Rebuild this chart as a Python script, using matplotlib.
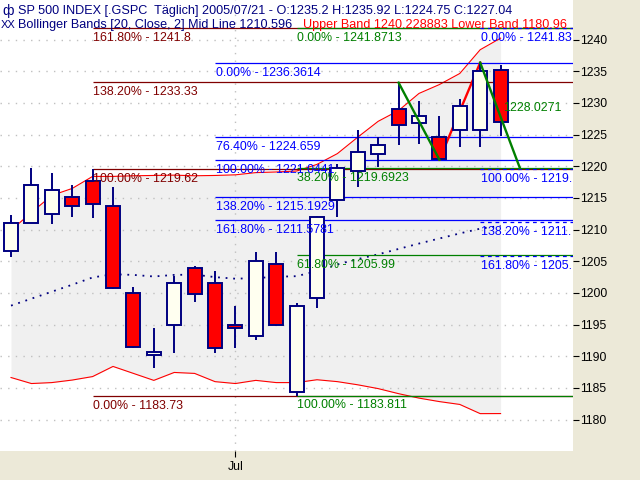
import matplotlib.pyplot as plt

plt.rcParams['font.family'] = ['Liberation Sans', 'DejaVu Sans']

# S&P 500 daily bars, 2005/06/16 .. 2005/07/21
opens  = [1206.7, 1211.0, 1212.5, 1215.2, 1217.7, 1213.7, 1200.0, 1190.2, 1195.0, 1204.0,
          1201.5, 1194.95, 1193.2, 1204.6, 1184.4, 1199.2, 1214.7, 1219.3, 1221.95, 1229.05,
          1226.9, 1224.7, 1225.65, 1225.75, 1235.2]
highs  = [1212.3, 1219.7, 1219.0, 1217.1, 1219.62, 1216.7, 1200.9, 1194.4, 1202.6, 1204.2,
          1203.4, 1198.0, 1206.5, 1206.4, 1198.4, 1212.1, 1220.4, 1225.65, 1224.55, 1233.2,
          1230.35, 1228.0, 1230.6, 1236.3614, 1235.92]
lows   = [1205.6, 1211.0, 1210.9, 1212.0, 1211.8, 1200.7, 1191.3, 1188.1, 1190.6, 1198.65,
          1190.5, 1191.3, 1192.5, 1194.75, 1183.73, 1197.6, 1211.95, 1216.7, 1219.95, 1223.4,
          1223.5, 1221.0444, 1223.0, 1223.0, 1224.75]
closes = [1211.1, 1217.1, 1216.3, 1213.8, 1214.1, 1200.75, 1191.5, 1190.75, 1201.65, 1199.85,
          1191.3, 1194.45, 1205.05, 1194.95, 1198.0, 1212.05, 1219.7, 1222.3, 1223.4, 1226.55,
          1227.95, 1221.17, 1229.45, 1235.1, 1227.04]

# Bollinger bands [20, Close, 2]
upper_band = [1209.9, 1212.7, 1215.4, 1216.5, 1218.4, 1218.4, 1218.5, 1218.55, 1218.6, 1218.5,
              1218.55, 1218.65, 1219.0, 1219.1, 1219.25, 1220.3, 1222.0, 1224.6, 1227.1, 1228.8,
              1231.5, 1232.9, 1234.65, 1238.4, 1240.228883]
mid_line   = [1198.0, 1199.1, 1200.2, 1201.3, 1202.45, 1202.95, 1202.85, 1202.6, 1202.85, 1202.9,
              1202.5, 1202.25, 1202.35, 1202.55, 1202.65, 1203.45, 1204.5, 1205.35, 1206.1, 1206.95,
              1207.8, 1208.6, 1209.4, 1210.15, 1210.596]
lower_band = [1186.65, 1185.7, 1185.85, 1186.25, 1186.8, 1188.4, 1187.3, 1186.2, 1187.45, 1187.3,
              1186.0, 1185.7, 1186.2, 1185.85, 1185.85, 1186.3, 1186.0, 1185.5, 1184.9, 1184.1,
              1183.4, 1182.85, 1182.4, 1180.95, 1180.96]

jul_bar = 11

# Fibonacci tools: start bar, levels, shown labels
fib_brown_start = 4
fib_brown_pct = ["161.80%", "138.20%", "100.00%", "0.00%"]
fib_brown_val = [1241.8, 1233.33, 1219.62, 1183.73]

fib_green_start = 14
fib_green_pct = ["0.00%", "38.20%", "61.80%", "100.00%"]
fib_green_val = [1241.8713, 1219.6923, 1205.99, 1183.811]

fib_blue_start = 10
fib_blue_pct = ["0.00%", "76.40%", "100.00%", "138.20%", "161.80%"]
fib_blue_val = [1236.3614, 1224.659, 1221.0441, 1215.1929, 1211.5781]

# right-hand projection, labels cut off at the chart edge
fib_proj_start = 23
fib_proj_pct = ["0.00%", "100.00%", "138.20%", "161.80%"]
fib_proj_val = [1241.833, 1219.62, 1211.14, 1205.89]
fib_proj_txt = ["1241.83", "1219.", "1211.", "1205."]

# swing lines
swing_a = [(19, 1233.2), (21, 1221.0444)]
swing_b = [(21, 1221.0444), (23, 1236.3614)]
swing_c = [(23, 1236.3614), (24.95, 1219.6923)]
proj_label = "1228.0271"

NAVY = '#000080'
BROWN = '#800000'
GREEN = '#008000'
BLUE = '#0000FF'
RED = '#FF0000'

fig = plt.figure(figsize=(6.4, 4.8), dpi=100, facecolor='#ECE9D8')
ax = fig.add_axes([0, 29 / 480, 573 / 640, 451 / 480])
ax.set_facecolor('white')
xmin, xmax = -0.54, 27.55
ax.set_xlim(xmin, xmax)
ax.set_ylim(1175.05, 1246.25)

x = list(range(len(opens)))

# bands
ax.fill_between(x, lower_band, upper_band, color='#F0F0F0', lw=0, zorder=0.2)
ax.plot(x, upper_band, color=RED, lw=0.8, zorder=2)
ax.plot(x, lower_band, color=RED, lw=0.8, zorder=2)
ax.plot(x, mid_line, color=NAVY, lw=1.3, ls=(0, (1, 3.2)), zorder=2)


def fib(start, pcts, vals, color, ls='-', texts=None):
    for k, (p, v) in enumerate(zip(pcts, vals)):
        ax.hlines(v, start, xmax, color=color, lw=0.9, ls=ls, zorder=2.2)
        shown = texts[k] if texts else v
        ax.annotate(f"{p} - {shown}", (start, v), xytext=(0.5, -2.8), textcoords='offset points',
                    ha='left', va='top', color=color, fontsize=8.9, zorder=7,
                    clip_on=True, annotation_clip=False)


fib(fib_brown_start, fib_brown_pct, fib_brown_val, BROWN)
fib(fib_green_start, fib_green_pct, fib_green_val, GREEN)
fib(fib_blue_start, fib_blue_pct, fib_blue_val, BLUE)
fib(fib_proj_start, fib_proj_pct, fib_proj_val, BLUE, ls=(0, (3, 3)), texts=fib_proj_txt)

# candles
for i in x:
    o, h, l, c = opens[i], highs[i], lows[i], closes[i]
    ax.vlines(i, l, h, color=NAVY, lw=1.4, zorder=3)
    fc = RED if c < o else '#FFFFF0'
    ax.bar(i, abs(c - o), bottom=min(o, c), width=0.69, color=fc,
           edgecolor=NAVY, linewidth=1.4, zorder=4)

# swings
ax.plot(*zip(*swing_b), color=RED, lw=1.7, zorder=2.5)
ax.plot(*zip(*swing_a), color=GREEN, lw=1.7, zorder=6)
ax.plot(*zip(*swing_c), color=GREEN, lw=1.7, zorder=6)
ax.text(24.1, 1229.2, proj_label, color=GREEN, fontsize=8.9, va='center', ha='left', zorder=7)

# axes styling
for s in ax.spines.values():
    s.set_visible(False)
ax.yaxis.tick_right()
ax.set_yticks(range(1180, 1241, 5))
ax.set_yticklabels([str(v) for v in range(1180, 1241, 5)])
ax.tick_params(axis='y', direction='out', length=4, width=0.8, pad=1, labelsize=8.8, colors='black')
ax.set_xticks([jul_bar])
ax.set_xticklabels(['Jul'])
ax.tick_params(axis='x', direction='out', length=4, width=0.8, pad=3, labelsize=8.8, colors='black')
ax.set_axisbelow(True)
ax.grid(True, color='#C0C0C0', ls=(0, (1, 4.5)), lw=1.0)

# header
W, H = 573.0, 451.0
ax.text(2 / W, 1 - 11 / H, "ф", transform=ax.transAxes, color=NAVY, fontsize=10, va='center', zorder=8)
ax.text(18 / W, 1 - 11 / H,
        "SP 500 INDEX [.GSPC  Täglich] 2005/07/21 - O:1235.2 H:1235.92 L:1224.75 C:1227.04",
        transform=ax.transAxes, color=NAVY, fontsize=9.1, va='center', zorder=8)
ax.text(1 / W, 1 - 25 / H, "XX", transform=ax.transAxes, color=NAVY, fontsize=8, va='center', zorder=8)
ax.text(18 / W, 1 - 25 / H, "Bollinger Bands [20, Close, 2] Mid Line 1210.596",
        transform=ax.transAxes, color=NAVY, fontsize=9.1, va='center', zorder=8)
ax.text(303 / W, 1 - 25 / H, "Upper Band 1240.228883 Lower Band 1180.96",
        transform=ax.transAxes, color=RED, fontsize=9.1, va='center', zorder=8, clip_on=True)

fig.savefig('out.png', dpi=100, facecolor=fig.get_facecolor())
